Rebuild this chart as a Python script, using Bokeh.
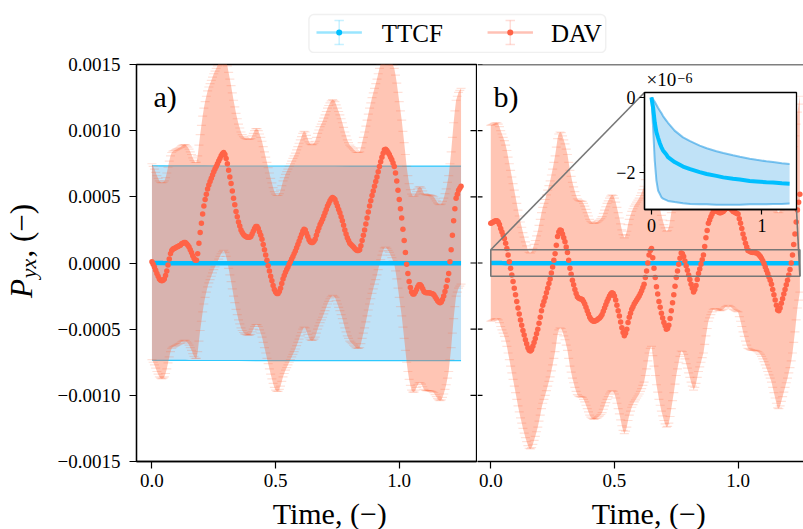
import math
import numpy as np
from bokeh.plotting import figure
from bokeh.models import (Range1d, FixedTicker, CustomJSTickFormatter, Label, Span,
                          BoxAnnotation)
from bokeh.layouts import column, row
from bokeh.embed import file_html
from bokeh.resources import INLINE

# ---------------- data ----------------
# DAV response sampled every 0.005 time units (values in units of 1e-4)
dav_a = np.array([
    0.1, -0.1, -0.3, -0.55, -0.8, -1.0, -1.2, -1.3, -1.35, -1.3,
    -1.2, -0.95, -0.6, -0.15, 0.3, 0.7, 0.95, 1.05, 1.1, 1.15,
    1.2, 1.25, 1.3, 1.35, 1.45, 1.5, 1.55, 1.55, 1.45, 1.35,
    1.2, 1.0, 0.8, 0.55, 0.35, 0.2, 0.2, 0.7, 1.5, 2.3,
    3.0, 3.7, 4.3, 4.8, 5.2, 5.6, 5.9, 6.15, 6.4, 6.65,
    6.9, 7.1, 7.3, 7.5, 7.7, 7.9, 8.1, 8.25, 8.35, 8.2,
    7.9, 7.5, 7.0, 6.5, 6.0, 5.45, 4.9, 4.4, 3.9, 3.5,
    3.1, 2.8, 2.5, 2.3, 2.15, 2.05, 2.0, 1.95, 1.95, 1.95,
    2.0, 2.2, 2.4, 2.6, 2.75, 2.75, 2.6, 2.35, 2.1, 1.8,
    1.4, 1.0, 0.6, 0.2, -0.2, -0.6, -1.0, -1.35, -1.7, -2.0,
    -2.2, -2.3, -2.3, -2.15, -1.9, -1.55, -1.2, -0.95, -0.7, -0.5,
    -0.3, -0.1, 0.1, 0.3, 0.5, 0.7, 0.9, 1.15, 1.4, 1.65,
    1.9, 2.15, 2.4, 2.55, 2.5, 2.25, 2.0, 1.75, 1.6, 1.55,
    1.55, 1.65, 1.8, 2.1, 2.4, 2.65, 2.9, 3.1, 3.3, 3.55,
    3.8, 4.05, 4.3, 4.5, 4.7, 4.85, 4.95, 4.9, 4.8, 4.55,
    4.3, 4.05, 3.8, 3.5, 3.2, 2.85, 2.5, 2.2, 1.9, 1.7,
    1.5, 1.4, 1.3, 1.2, 1.1, 1.0, 0.95, 0.95, 1.0, 1.3,
    1.7, 2.1, 2.5, 2.95, 3.4, 3.85, 4.3, 4.7, 5.1, 5.45,
    5.8, 6.15, 6.5, 6.9, 7.3, 7.65, 8.0, 8.3, 8.55, 8.6,
    8.5, 8.35, 8.2, 8.0, 7.8, 7.55, 7.3, 6.8, 6.2, 5.5,
    4.8, 4.1, 3.4, 2.55, 1.7, 0.8, -0.1, -0.8, -1.4, -1.85,
    -2.2, -2.35, -2.35, -2.2, -2.0, -1.8, -1.65, -1.65, -1.75, -1.95,
    -2.15, -2.22, -2.25, -2.25, -2.25, -2.27, -2.3, -2.33, -2.4, -2.55,
    -2.7, -2.85, -2.95, -3.0, -2.95, -2.75, -2.5, -2.15, -1.8, -1.3,
    -0.8, 0.1, 1.0, 2.1, 3.2, 4.1, 4.9, 5.2, 5.5, 5.65,
    5.8]) * 1e-4
dav_b = np.array([
    3.0, 3.05, 3.1, 3.15, 3.2, 3.2, 3.1, 2.9, 2.6, 2.35,
    2.1, 1.85, 1.5, 1.1, 0.6, 0.1, -0.4, -0.9, -1.4, -1.9,
    -2.4, -2.9, -3.4, -3.85, -4.3, -4.7, -5.1, -5.45, -5.8, -6.1,
    -6.4, -6.6, -6.65, -6.55, -6.3, -6.0, -5.7, -5.35, -5.0, -4.55,
    -4.1, -3.6, -3.2, -2.9, -2.6, -2.25, -1.9, -1.55, -1.2, -0.75,
    -0.3, 0.2, 0.7, 1.35, 2.0, 2.35, 2.5, 2.45, 2.2, 1.9,
    1.6, 1.2, 0.8, 0.2, -0.4, -0.85, -1.3, -1.65, -2.0, -2.3,
    -2.55, -2.65, -2.7, -2.72, -2.75, -2.9, -3.1, -3.35, -3.6, -3.85,
    -4.1, -4.25, -4.35, -4.4, -4.4, -4.35, -4.3, -4.22, -4.15, -4.05,
    -3.9, -3.65, -3.4, -3.15, -2.9, -2.7, -2.5, -2.35, -2.25, -2.3,
    -2.5, -2.8, -3.2, -3.6, -4.0, -4.45, -4.9, -5.25, -5.5, -5.3,
    -5.0, -4.5, -4.1, -3.8, -3.5, -3.3, -3.1, -2.95, -2.8, -2.65,
    -2.5, -2.3, -2.1, -1.85, -1.6, -1.1, -0.6, 0.0, 0.6, 0.95,
    1.1, 0.4, -0.4, -1.1, -1.8, -2.35, -2.9, -3.35, -3.8, -4.15,
    -4.5, -4.75, -5.0, -4.95, -4.7, -4.2, -3.6, -3.0, -2.4, -1.75,
    -1.1, -0.6, -0.1, 0.35, 0.75, 0.7, 0.5, 0.15, -0.2, -0.55,
    -0.9, -1.25, -1.6, -1.9, -2.2, -2.0, -1.7, -1.25, -0.8, -0.45,
    -0.1, 0.25, 0.6, 1.25, 1.9, 2.45, 3.0, 3.25, 3.5, 3.7,
    3.9, 3.95, 3.95, 3.9, 3.85, 3.8, 3.8, 3.85, 3.9, 4.0,
    4.1, 4.15, 4.2, 4.15, 4.1, 4.0, 3.9, 3.85, 3.8, 3.75,
    3.7, 3.35, 3.0, 2.6, 2.2, 1.85, 1.5, 1.2, 0.95, 0.9,
    0.85, 0.82, 0.8, 0.8, 0.78, 0.75, 0.7, 0.6, 0.5, 0.35,
    0.15, -0.05, -0.3, -0.55, -0.8, -1.05, -1.3, -1.6, -2.0, -2.4,
    -2.8, -3.2, -3.55, -3.6, -3.4, -3.05, -2.7, -2.35, -2.0, -1.65,
    -1.3, -0.9, -0.5, 0.0, 0.6, 1.4, 2.2, 3.1, 4.0, 4.6,
    5.2]) * 1e-4
t_dav_a = np.round(np.arange(len(dav_a)) * 0.005, 3)
t_dav_b = np.round(np.arange(len(dav_b)) * 0.005, 3)
dav_err = 7.4e-4

# TTCF response (values in units of 1e-6)
t_ttcf = np.array([0, 0.015, 0.03, 0.045, 0.06, 0.075, 0.09, 0.105, 0.135, 0.15,
                   0.21, 0.286, 0.35, 0.437, 0.5, 0.588, 0.65, 0.738, 0.8, 0.889,
                   0.95, 1.04, 1.1, 1.18, 1.25])
ttcf_mean = np.array([0, -0.27, -0.67, -0.93, -1.08, -1.22, -1.33, -1.42, -1.53, -1.6,
                      -1.73, -1.85, -1.92, -2.0, -2.05, -2.1, -2.14, -2.18, -2.2, -2.24,
                      -2.25, -2.27, -2.28, -2.3, -2.31]) * 1e-6
ttcf_upper = np.array([0, -0.05, -0.12, -0.2, -0.28, -0.35, -0.42, -0.5, -0.62, -0.68,
                       -0.89, -1.07, -1.17, -1.29, -1.36, -1.44, -1.49, -1.55, -1.59, -1.64,
                       -1.67, -1.71, -1.73, -1.76, -1.78]) * 1e-6
ttcf_lower = np.array([0, -0.8, -1.69, -2.22, -2.49, -2.58, -2.67, -2.71, -2.75, -2.77,
                       -2.80, -2.83, -2.85, -2.86, -2.86, -2.87, -2.87, -2.87, -2.87, -2.86,
                       -2.86, -2.86, -2.85, -2.85, -2.84]) * 1e-6
ttcf_err_a = 7.35e-4

# zoomed region shown in the inset of panel b
zoom_t = (0.0, 1.25)
zoom_v = (-1.0e-4, 1.0e-4)

y_ticks = [-0.0015, -0.0010, -0.0005, 0.0, 0.0005, 0.0010, 0.0015]
x_ticks = [0.0, 0.5, 1.0]
inset_x_ticks = [0, 1]
inset_y_ticks = [-2e-6, 0.0]

series_names = ["TTCF", "DAV"]
panel_tags = ["a)", "b)"]
x_label = "Time, (\u2212)"

# ---------------- style / layout ----------------
FONT = "Liberation Serif"
DESC = 0.23           # descent of the font, as a fraction of its size
BLUE = "#00bfff"
BAND_BLUE = "#0a8fe2"
RED = "#ff6347"
BAND_RED = "#ff6a3d"
GRAY = "#777777"

LEG_H = 53            # legend strip
B_TOP, B_BOTTOM = 11, 34
FRAME_H = 397
PANEL_H = B_TOP + FRAME_H + B_BOTTOM
BOT_H = 529 - LEG_H - PANEL_H   # strip holding the x-axis titles
FRAME_TOP = LEG_H + B_TOP
ROW_BOTTOM = LEG_H + PANEL_H
W_Y, W_A, W_B = 50, 427, 326
A_LEFT, A_RIGHT = 86, 1
A_FRAME_LEFT = W_Y + A_LEFT
X0, X1 = -0.0625, 1.3125
Y0, Y1 = -0.0015, 0.0015
PPU = (W_A - A_LEFT - A_RIGHT) / (X1 - X0)
B_PAGE_LEFT = W_Y + W_A
XB0 = -(490.3 - B_PAGE_LEFT) / PPU
XB1 = XB0 + W_B / PPU

IN_LEFT, IN_TOP = 604, 66
IN_BL, IN_BR, IN_BT, IN_BB = 40, 4, 26, 32
IN_W, IN_H = 196, 175
IX0, IX1 = -0.0625, 1.3125
IY0, IY1 = -3.0e-6, 0.13e-6


def ya(py):
    return Y1 - (py - FRAME_TOP) / FRAME_H * (Y1 - Y0)


def xa(px):
    return X0 + (px - A_FRAME_LEFT) / PPU


def xb(px):
    return XB0 + (px - B_PAGE_LEFT) / PPU


def text(x, y, s, size, **kw):
    return Label(x=x, y=y, text=s, text_font=FONT, text_font_size=f"{size}px",
                 text_color="black", text_baseline="bottom", **kw)


def style_axis(ax, size="19px", tick=7, standoff=5):
    ax.axis_line_color = "black"
    ax.axis_line_width = 1.3
    ax.major_tick_line_color = "black"
    ax.major_tick_line_width = 1.2
    ax.major_tick_out = tick
    ax.major_tick_in = 0
    ax.minor_tick_line_color = None
    ax.major_label_text_font = FONT
    ax.major_label_text_font_size = size
    ax.major_label_text_color = "black"
    ax.major_label_standoff = standoff


def strip(width, height):
    """A bare figure whose data coordinates are its own pixels (y downwards)."""
    p = figure(width=width, height=height, x_range=Range1d(0, width),
               y_range=Range1d(height, 0), toolbar_location=None, output_backend="svg",
               min_border_left=0, min_border_right=0, min_border_top=0,
               min_border_bottom=0, x_axis_location=None, y_axis_location=None,
               outline_line_color=None, background_fill_color="white",
               border_fill_color="white")
    p.grid.visible = False
    return p


y_fmt = CustomJSTickFormatter(code="""
    const s = Math.abs(tick).toFixed(4);
    return (tick < -1e-12 ? "\u2212" : "") + s;""")
x_fmt = CustomJSTickFormatter(code="return tick.toFixed(1);")


def panel(width, x_range, left, right, with_y):
    p = figure(width=width, height=PANEL_H, x_range=x_range, y_range=Range1d(Y0, Y1),
               toolbar_location=None, output_backend="svg",
               min_border_left=left, min_border_right=right,
               min_border_top=B_TOP, min_border_bottom=B_BOTTOM,
               background_fill_color="white", border_fill_color="white",
               y_axis_location="left" if with_y else None)
    p.grid.visible = False
    style_axis(p.xaxis[0])
    p.xaxis.ticker = FixedTicker(ticks=x_ticks)
    p.xaxis.formatter = x_fmt
    return p


def draw_dav(p, t, v):
    p.varea(x=t, y1=v - dav_err, y2=v + dav_err, fill_color=BAND_RED, fill_alpha=0.39)
    for edge in (v + dav_err, v - dav_err):
        p.scatter(t, edge, marker="dash", size=9, line_color=BAND_RED,
                  line_alpha=0.2, line_width=1.2)


# ---------------- panel a ----------------
pA = panel(W_A, Range1d(X0, X1), A_LEFT, A_RIGHT, True)
pA.outline_line_color = "black"
pA.outline_line_width = 1.3
style_axis(pA.yaxis[0], tick=7, standoff=9)
pA.yaxis.ticker = FixedTicker(ticks=y_ticks)
pA.yaxis.formatter = y_fmt

pA.varea(x=t_ttcf, y1=ttcf_mean - ttcf_err_a, y2=ttcf_mean + ttcf_err_a,
         fill_color=BAND_BLUE, fill_alpha=0.26)
for edge in (ttcf_mean + ttcf_err_a, ttcf_mean - ttcf_err_a):
    pA.line(t_ttcf, edge, line_color=BLUE, line_alpha=0.8, line_width=1.2)
draw_dav(pA, t_dav_a, dav_a)
pA.line(t_ttcf, ttcf_mean, line_color=BLUE, line_width=4.5)
pA.scatter(t_dav_a, dav_a, size=5.5, fill_color=RED, line_color=None)

# ticks shared by the two panels on the dividing spine
pA.segment(x0=[X1 - 6 / PPU] * len(y_ticks), x1=[X1] * len(y_ticks),
           y0=y_ticks, y1=y_ticks, line_color="black", line_width=1.2)
pA.add_layout(text(xa(153), ya(105.5 + DESC * 30), panel_tags[0], 30))

# ---------------- panel b ----------------
pB = panel(W_B, Range1d(XB0, XB1), 0, 0, False)
pB.outline_line_color = None
pB.add_layout(Span(location=Y1, dimension="width", line_color="black", line_width=1.3))

draw_dav(pB, t_dav_b, dav_b)
pB.line(t_ttcf, ttcf_mean, line_color=BLUE, line_width=4.5)
pB.scatter(t_dav_b, dav_b, size=5.5, fill_color=RED, line_color=None)
pB.segment(x0=[XB0] * len(y_ticks), x1=[XB0 + 5 / PPU] * len(y_ticks),
           y0=y_ticks, y1=y_ticks, line_color="black", line_width=1.2)

# zoom box and connectors to the inset
pB.quad(left=[zoom_t[0]], right=[zoom_t[1]], bottom=[zoom_v[0]], top=[zoom_v[1]],
        fill_color=None, line_color=GRAY, line_width=1.6)
in_l, in_t = IN_LEFT + IN_BL, IN_TOP + IN_BT
in_r, in_b = IN_LEFT + IN_W - IN_BR, IN_TOP + IN_H - IN_BB
pB.segment(x0=[zoom_t[0], zoom_t[1]], y0=[zoom_v[1], zoom_v[0]],
           x1=[xb(in_l), xb(in_r)], y1=[ya(in_t), ya(in_b)],
           line_color=GRAY, line_width=1.6)
pB.add_layout(text(xb(493), ya(105.5 + DESC * 30), panel_tags[1], 30))
# scale factor of the inset's y axis
pB.add_layout(text(xb(646), ya(85.5 + DESC * 19), "\u00d710", 19))
pB.add_layout(text(xb(677), ya(79.5 + DESC * 14), "\u22126", 14))

# ---------------- inset ----------------
pI = figure(width=IN_W, height=IN_H, x_range=Range1d(IX0, IX1), y_range=Range1d(IY0, IY1),
            toolbar_location=None, output_backend="svg",
            min_border_left=IN_BL, min_border_right=IN_BR,
            min_border_top=IN_BT, min_border_bottom=IN_BB,
            background_fill_color="white", border_fill_alpha=0,
            outline_line_color="black", outline_line_width=1.3)
pI.grid.visible = False
for ax in (pI.xaxis[0], pI.yaxis[0]):
    style_axis(ax, size="18px", tick=5, standoff=4)
pI.xaxis.ticker = FixedTicker(ticks=inset_x_ticks)
pI.yaxis.ticker = FixedTicker(ticks=inset_y_ticks)
pI.xaxis.formatter = CustomJSTickFormatter(code="return String(Math.round(tick));")
pI.yaxis.formatter = CustomJSTickFormatter(code="""
    const v = Math.round(tick * 1e6);
    return v < 0 ? "\u2212" + Math.abs(v) : String(v);""")
pI.varea(x=t_ttcf, y1=ttcf_lower, y2=ttcf_upper, fill_color=BAND_BLUE, fill_alpha=0.26)
for edge in (ttcf_upper, ttcf_lower):
    pI.line(t_ttcf, edge, line_color=BAND_BLUE, line_alpha=0.5, line_width=2)
pI.line(t_ttcf, ttcf_mean, line_color=BLUE, line_width=4)
pI.styles = {"position": "absolute", "left": f"{IN_LEFT}px", "top": f"{IN_TOP}px",
             "z-index": "5"}

# ---------------- y-axis title strip ----------------
pY = strip(W_Y, PANEL_H)
pY.add_layout(text(31.7 + DESC * 31, 313 - LEG_H, "P", 31, angle=math.pi / 2,
                   text_font_style="italic"))
pY.add_layout(text(35.5 + DESC * 22, 291 - LEG_H, "yx", 22, angle=math.pi / 2,
                   text_font_style="italic"))
pY.add_layout(text(31.7 + DESC * 31, 268 - LEG_H, ", (\u2212)", 31, angle=math.pi / 2))

# ---------------- x-axis title strip ----------------
pX = strip(803, BOT_H)
for cx in (A_FRAME_LEFT + (W_A - A_LEFT - A_RIGHT) / 2, 643.5):
    pX.add_layout(text(cx, BOT_H, x_label, 30, text_align="center"))

# ---------------- legend strip ----------------
pL = strip(803, LEG_H)
pL.add_layout(BoxAnnotation(left=284, right=598, top=14, bottom=52, border_radius=5,
                            fill_color="white", fill_alpha=1, line_color="#cccccc",
                            line_width=1.5, level="underlay"))
for name, color, cx, tx in zip(series_names, [BLUE, RED], [316, 497], [361, 540]):
    pL.segment(x0=[cx - 24], x1=[cx + 24], y0=[32], y1=[32], line_color=color,
               line_alpha=0.4, line_width=2.5)
    pL.segment(x0=[cx, cx - 5, cx - 5], x1=[cx, cx + 5, cx + 5], y0=[20, 20, 44],
               y1=[44, 20, 44], line_color=color, line_alpha=0.22, line_width=1.5)
    pL.scatter([cx], [32], size=6, fill_color=color, line_color=None)
    pL.add_layout(text(tx, 40.7 + DESC * 25, name, 25))

layout = column(pL, row(pY, pA, pB), pX, pI)
open("out.html", "w").write(file_html(layout, INLINE))
